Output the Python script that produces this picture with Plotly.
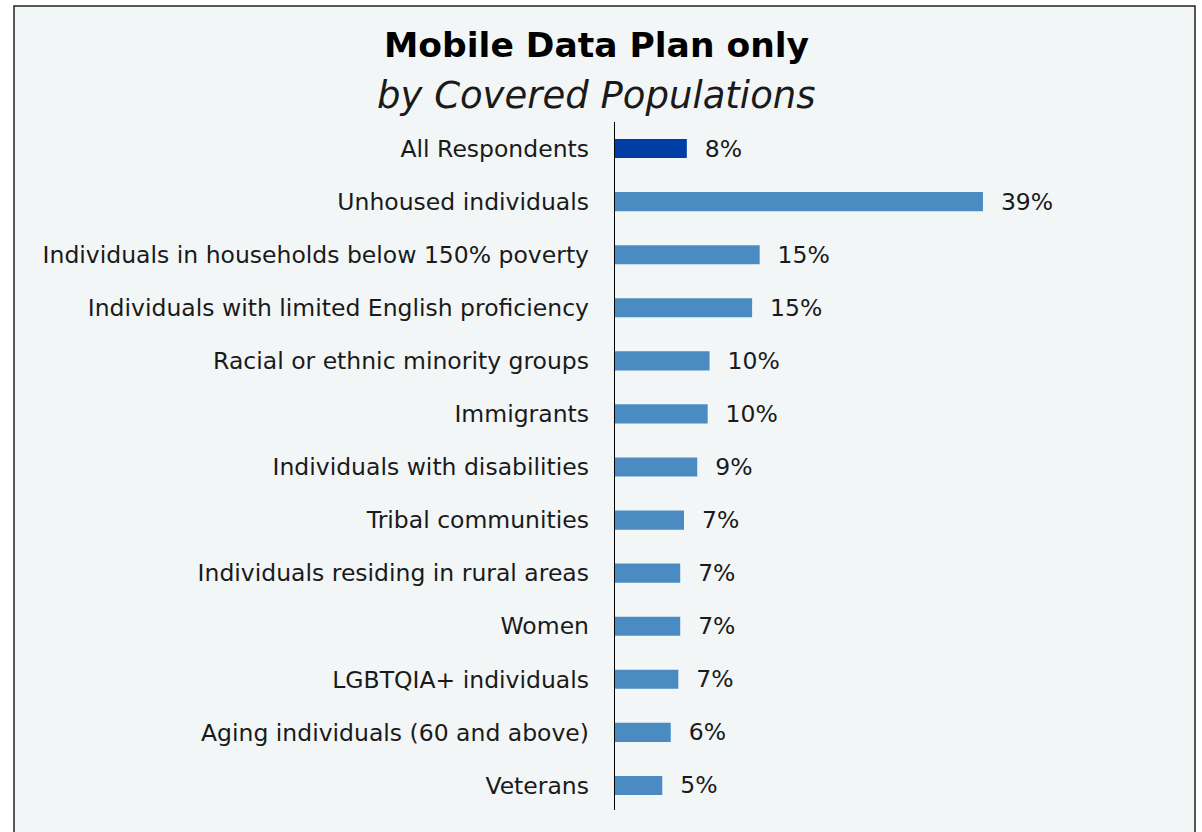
import plotly.graph_objects as go

# Share of respondents relying on a mobile data plan only, by covered population
categories = [
    "All Respondents",
    "Unhoused individuals",
    "Individuals in households below 150% poverty",
    "Individuals with limited English proficiency",
    "Racial or ethnic minority groups",
    "Immigrants",
    "Individuals with disabilities",
    "Tribal communities",
    "Individuals residing in rural areas",
    "Women",
    "LGBTQIA+ individuals",
    "Aging individuals (60 and above)",
    "Veterans",
]
values = [7.7, 39.0, 15.4, 14.6, 10.1, 9.9, 8.8, 7.4, 7.0, 7.0, 6.8, 6.0, 5.1]

TOTAL_COLOR = "#003DA5"
GROUP_COLOR = "#4A8CC2"
PANEL_BG = "#F2F6F7"
FONT = "DejaVu Sans"

colors = [TOTAL_COLOR] + [GROUP_COLOR] * (len(categories) - 1)

W, H = 1202, 832
ML, MR, MT, MB = 614, 162, 122, 20
PW, PH = W - ML - MR, H - MT - MB


def px_x(px):
    return (px - ML) / PW


def px_y(py):
    return (H - MB - py) / PH


fig = go.Figure(
    go.Bar(
        x=values,
        y=categories,
        orientation="h",
        marker=dict(color=colors, line=dict(width=0)),
        width=0.36,
        text=values,
        texttemplate="  %{x:.0f}%",
        textposition="outside",
        constraintext="none",
        textfont=dict(family=FONT, size=23.5, color="#1a1a1a"),
        cliponaxis=False,
        hovertemplate="%{y}: %{x:.0f}%<extra></extra>",
    )
)

fig.update_layout(
    width=W,
    height=H,
    margin=dict(l=ML, r=MR, t=MT, b=MB, pad=0),
    paper_bgcolor="white",
    plot_bgcolor="rgba(0,0,0,0)",
    showlegend=False,
    bargap=0.64,
    font=dict(family=FONT, color="#1a1a1a"),
    xaxis=dict(
        range=[0, PW / 9.46],
        visible=False,
        fixedrange=True,
    ),
    yaxis=dict(
        autorange="reversed",
        showgrid=False,
        zeroline=False,
        showline=False,
        ticks="",
        ticklabelstandoff=24,
        tickfont=dict(family=FONT, size=23.5, color="#1a1a1a"),
        fixedrange=True,
    ),
    shapes=[
        # framed panel behind the chart
        dict(
            type="rect",
            xref="paper",
            yref="paper",
            x0=px_x(14),
            x1=px_x(1195),
            y0=px_y(845),
            y1=px_y(6),
            fillcolor=PANEL_BG,
            line=dict(color="#222222", width=1.5),
            layer="below",
        ),
        # category axis line
        dict(
            type="line",
            xref="x",
            yref="paper",
            x0=0,
            x1=0,
            y0=px_y(810),
            y1=px_y(122),
            line=dict(color="black", width=2),
            layer="above",
        ),
    ],
    annotations=[
        dict(
            text="<b>Mobile Data Plan only</b>",
            xref="paper",
            yref="paper",
            x=px_x(596),
            y=px_y(45),
            xanchor="center",
            yanchor="middle",
            showarrow=False,
            font=dict(family=FONT, size=34.5, color="black"),
        ),
        dict(
            text="<i>by Covered Populations</i>",
            xref="paper",
            yref="paper",
            x=px_x(596),
            y=px_y(96),
            xanchor="center",
            yanchor="middle",
            showarrow=False,
            font=dict(family=FONT, size=37, color="#1a1a1a"),
        ),
    ],
)

fig.write_html("out.html")
